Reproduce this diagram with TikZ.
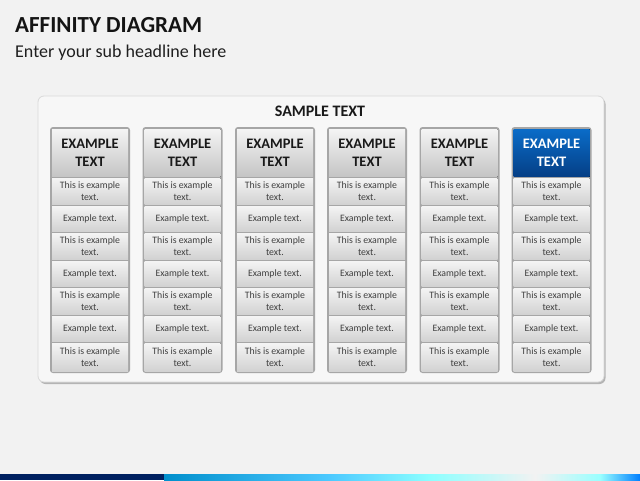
\documentclass[tikz,border=0pt]{standalone}
\usepackage{fontspec}
\setmainfont{Carlito}
\usetikzlibrary{shadows}
\definecolor{bg}{HTML}{F2F2F2}
\definecolor{framec}{HTML}{A6A6A6}
\definecolor{celltop}{HTML}{F4F4F4}
\definecolor{cellbot}{HTML}{D2D2D2}
\definecolor{headtop}{HTML}{F4F4F4}
\definecolor{headbot}{HTML}{C4C4C4}
\definecolor{bluetop}{HTML}{0A6CC8}
\definecolor{bluebot}{HTML}{053F86}
\definecolor{navy}{HTML}{002060}
\definecolor{celltext}{HTML}{404040}
\tikzset{
  x=1pt, y=-1pt,
  panel/.style={rounded corners=6pt, fill=bg!60!white, draw=black!15, line width=0.8pt,
    drop shadow={shadow xshift=1.5pt, shadow yshift=-2pt, fill=black!45, opacity=0.6}},
  colframe/.style={rounded corners=3pt, fill=framec},
  headcell/.style={top color=headtop, bottom color=headbot},
  blueheadcell/.style={top color=bluetop, bottom color=bluebot},
  bodycell/.style={top color=celltop, bottom color=cellbot},
  headtxt/.style={font=\bfseries\fontsize{14.5}{17.5}\selectfont, text=black!90, align=center, inner sep=0pt},
  blueheadtxt/.style={headtxt, text=white},
  celltxt/.style={font=\fontsize{9.8}{11.5}\selectfont, text=celltext, align=center, inner sep=0pt},
}
\begin{document}
\begin{tikzpicture}
\path[fill=bg] (0,0) rectangle (640,480);
\useasboundingbox (0,0) rectangle (640,480);
% title
\node[anchor=west, inner sep=0pt, font=\bfseries\fontsize{23}{26}\selectfont, text=black!92] (title) at (15,25) {AFFINITY DIAGRAM};
\node[anchor=west, inner sep=0pt, font=\fontsize{18}{21}\selectfont, text=black!88] (subtitle) at (15,53) {Enter your sub headline here};
% panel
\draw[panel] (38,96) rectangle (604,382);
\node[font=\bfseries\fontsize{16}{19}\selectfont, text=black!90, inner sep=0pt] (sample) at (320,111) {SAMPLE TEXT};
% columns
\foreach \c [count=\k] in {50,142.5,235,327,419.5,511.5} {
  \fill[colframe] (\c,127) rectangle ++(80,246);
  \ifnum\k=6
    \fill[blueheadcell] (\c+2,129) rectangle (\c+78,176.5);
    \node[blueheadtxt] (h\k) at (\c+40,153) {EXAMPLE\\TEXT};
  \else
    \fill[headcell] (\c+2,129) rectangle (\c+78,176.5);
    \node[headtxt] (h\k) at (\c+40,153) {EXAMPLE\\TEXT};
  \fi
  \foreach \t/\b [count=\r] in {178/204, 206/231, 233/259, 261/286, 288/314, 316/341, 343/371} {
    \fill[bodycell] (\c+2,\t) rectangle (\c+78,\b);
    \ifodd\r
      \node[celltxt] (t\k-\r) at (\c+40,{(\t+\b)/2}) {This is example\\text.};
    \else
      \node[celltxt] (t\k-\r) at (\c+40,{(\t+\b)/2}) {Example text.};
    \fi
  }
}
% bottom bar
\fill[navy] (0,474) rectangle (164,480);
\shade[left color=blue!30!cyan!80!black, right color=cyan!70!blue!70] (164,474) rectangle (330,480);
\fill[left color=cyan!70!blue!70, right color=cyan!45] (330,474) rectangle (430,480);
\shade[left color=cyan!45, right color=bg] (430,474) rectangle (535,480);
\shade[left color=bg, right color=cyan!40] (535,474) rectangle (600,480);
\shade[left color=cyan!40, right color=blue!50!cyan] (600,474) rectangle (640,480);
\end{tikzpicture}
\end{document}
